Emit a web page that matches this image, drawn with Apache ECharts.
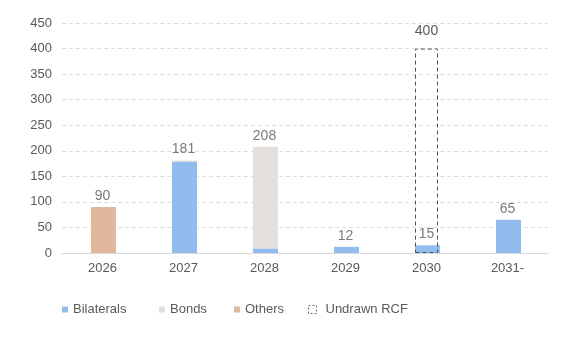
<!DOCTYPE html>
<html>
<head>
<meta charset="utf-8">
<script src="https://cdn.jsdelivr.net/npm/echarts@6/dist/echarts.min.js"></script>
<style>
  html, body { margin: 0; padding: 0; background: #fff; }
  #main { width: 577px; height: 354px; }
</style>
</head>
<body>
<div id="main"></div>
<script>
const years = ["2026", "2027", "2028", "2029", "2030", "2031-"];
const bilaterals = [0, 179, 9, 12, 15, 65];
const bonds = [0, 2, 199, 0, 0, 0];
const others = [90, 0, 0, 0, 0, 0];
const undrawnRcf = [null, null, null, null, 400, null];
const legendNames = ["Bilaterals", "Bonds", "Others", "Undrawn RCF"];

// label above each stack (drawn stack total)
const totals = years.map((y, i) => bilaterals[i] + bonds[i] + others[i]);

const chartDom = document.getElementById("main");
const myChart = echarts.init(chartDom, null, { renderer: "canvas" });

const font = "Arial, 'Liberation Sans', sans-serif";
const legendLeft = [62, 159, 234, 308];

// one legend per item so the uneven spacing of the original can be kept
const legends = legendNames.map((n, i) => ({
  left: legendLeft[i],
  top: 303,
  padding: 0,
  itemWidth: i === 3 ? 8 : 6,
  itemHeight: i === 3 ? 8 : 6,
  itemGap: 0,
  icon: "rect",
  textStyle: {
    color: "#595959", fontSize: 13, fontFamily: font,
    padding: [0, 0, 0, i === 3 ? 4 : 0]
  },
  data: i === 3
    ? [{ name: n, itemStyle: { color: "rgba(0,0,0,0)", borderColor: "#5b7080", borderWidth: 1, borderType: [2, 2] } }]
    : [n]
}));

const option = {
  animation: false,
  textStyle: { fontFamily: font },
  grid: { left: 62, right: 29, top: 23, bottom: 101 },
  legend: legends,
  xAxis: {
    type: "category",
    data: years,
    axisLine: { lineStyle: { color: "#d9d9d9" } },
    axisTick: { show: false },
    axisLabel: { color: "#595959", fontSize: 13, margin: 9 }
  },
  yAxis: {
    type: "value",
    min: 0,
    max: 450,
    interval: 50,
    axisLine: { show: false },
    axisTick: { show: false },
    axisLabel: { color: "#595959", fontSize: 13, margin: 10 },
    splitLine: { lineStyle: { color: "#dedede", type: [4, 3] } }
  },
  series: [
    {
      name: "Bilaterals",
      type: "bar",
      stack: "debt",
      barWidth: 25,
      itemStyle: { color: "#92bbee" },
      data: bilaterals
    },
    {
      name: "Bonds",
      type: "bar",
      stack: "debt",
      barWidth: 25,
      itemStyle: { color: "#e3dfdb" },
      data: bonds
    },
    {
      name: "Others",
      type: "bar",
      stack: "debt",
      barWidth: 25,
      itemStyle: { color: "#dfb89e" },
      data: others
    },
    {
      name: "Undrawn RCF",
      type: "bar",
      barWidth: 23,
      barGap: "-100%",
      z: 5,
      itemStyle: {
        color: "rgba(0,0,0,0)",
        borderColor: "#3f5566",
        borderWidth: 1,
        borderType: [4, 3]
      },
      label: {
        show: true,
        position: "top",
        distance: 10,
        color: "#595959",
        fontSize: 14,
        fontFamily: font
      },
      data: undrawnRcf
    },
    {
      name: "totals",
      type: "scatter",
      symbolSize: 0,
      silent: true,
      z: 6,
      label: {
        show: true,
        position: "top",
        distance: 4,
        color: "#595959",
        fontSize: 14,
        fontFamily: font
      },
      data: totals
    }
  ]
};

option && myChart.setOption(option);
</script>
</body>
</html>
